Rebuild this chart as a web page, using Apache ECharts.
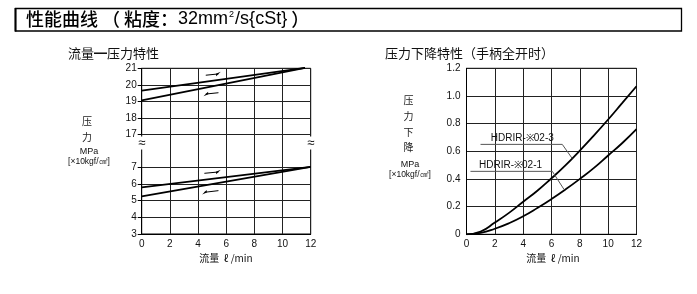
<!DOCTYPE html>
<html><head><meta charset="utf-8">
<script src="https://cdn.jsdelivr.net/npm/echarts@6/dist/echarts.min.js"></script>
<style>html,body{margin:0;padding:0;background:#fff}#c{width:697px;height:294px}</style>
</head><body><div id="c"></div>
<script>
// ---- data ----
const flowTicks = [0, 2, 4, 6, 8, 10, 12];
const pressTopTicks = [17, 18, 19, 20, 21];
const pressBotTicks = [3, 4, 5, 6, 7];
// flow-pressure characteristic (upper segment, MPa)
const topRising = [[0, 19.65], [11.6, 21.02]];
const topFalling = [[0, 19.05], [11.6, 21.02]];
// lower segment
const botRising = [[0, 5.8], [12, 7.02]];
const botFalling = [[0, 5.25], [12, 7.02]];
// pressure drop (handle fully open)
const dropFlow = [0, 1, 2, 3, 4, 5, 6, 7, 8, 9, 10, 11, 12];
const drop023 = [0, 0.02, 0.085, 0.155, 0.235, 0.315, 0.405, 0.5, 0.605, 0.715, 0.83, 0.95, 1.07];
const drop021 = [0, 0.01, 0.04, 0.08, 0.13, 0.19, 0.255, 0.325, 0.40, 0.48, 0.57, 0.66, 0.76];
const dropTicks = [0, 0.2, 0.4, 0.6, 0.8, 1.0, 1.2];
const label023 = 'HDRIR-※02-3';
const label021 = 'HDRIR-※02-1';
const leader023 = [[0.99, 0.65], [6.76, 0.65], [7.45, 0.55]];
const leader021 = [[0.28, 0.455], [6.06, 0.455], [6.88, 0.325]];

const CJK = "'Noto Sans CJK SC', sans-serif";
const LAT = "'Liberation Sans', Arial, sans-serif";
const GRIDC = '#222';
const chart = echarts.init(document.getElementById('c'));

function pair(a, b) { return a.map((v, i) => [v, b[i]]); }

const axLabel = {fontFamily: LAT, fontSize: 10, color: '#111'};
const harpoon = 'path://M0,0 L10,12 L4,12 Z';

const option = {
  animation: false,
  grid: [
    {left: 141.7, top: 68.3, width: 169, height: 165.7, show: true, borderColor: '#000', borderWidth: 1},
    {left: 141.7, top: 68.3, width: 169, height: 66},
    {left: 141.7, top: 167.3, width: 169, height: 66.7},
    {left: 466.5, top: 68.3, width: 170, height: 166, show: true, borderColor: '#000', borderWidth: 1}
  ],
  xAxis: [
    {gridIndex: 0, type: 'value', min: 0, max: 12, interval: 2,
     axisLine: {show: true, lineStyle: {color: '#000'}}, axisTick: {show: false},
     axisLabel: Object.assign({margin: 5}, axLabel),
     splitLine: {show: true, lineStyle: {color: GRIDC, width: 1}}},
    {gridIndex: 1, type: 'value', min: 0, max: 12, show: false},
    {gridIndex: 2, type: 'value', min: 0, max: 12, show: false},
    {gridIndex: 3, type: 'value', min: 0, max: 12, interval: 2,
     axisLine: {show: true, lineStyle: {color: '#000'}}, axisTick: {show: false},
     axisLabel: Object.assign({margin: 5}, axLabel),
     splitLine: {show: true, lineStyle: {color: GRIDC, width: 1}}}
  ],
  yAxis: [
    {gridIndex: 0, type: 'value', min: 0, max: 1, show: false},
    {gridIndex: 1, type: 'value', min: 17, max: 21, interval: 1,
     axisLine: {show: true, lineStyle: {color: '#000'}},
     axisTick: {show: true, length: 4, lineStyle: {color: '#000'}},
     axisLabel: Object.assign({margin: 5}, axLabel),
     splitLine: {show: true, lineStyle: {color: GRIDC, width: 1}}},
    {gridIndex: 2, type: 'value', min: 3, max: 7, interval: 1,
     axisLine: {show: true, lineStyle: {color: '#000'}},
     axisTick: {show: true, length: 4, lineStyle: {color: '#000'}},
     axisLabel: Object.assign({margin: 5}, axLabel),
     splitLine: {show: true, lineStyle: {color: GRIDC, width: 1}}},
    {gridIndex: 3, type: 'value', min: 0, max: 1.2, interval: 0.2,
     axisLine: {show: true, lineStyle: {color: '#000'}}, axisTick: {show: false},
     axisLabel: Object.assign({margin: 6, formatter: v => v === 0 ? '0' : v.toFixed(1)}, axLabel),
     splitLine: {show: true, lineStyle: {color: GRIDC, width: 1}}}
  ],
  series: [
    {type: 'line', xAxisIndex: 1, yAxisIndex: 1, data: topRising, showSymbol: false, clip: false,
     lineStyle: {color: '#000', width: 1.8},
     markLine: {silent: true, symbol: ['none', harpoon], symbolSize: [4, 5], label: {show: false},
       lineStyle: {color: '#000', width: 1, type: 'solid'},
       data: [[{coord: [4.55, 20.58]}, {coord: [5.45, 20.66]}],
              [{coord: [5.45, 19.52]}, {coord: [4.55, 19.44]}]]}},
    {type: 'line', xAxisIndex: 1, yAxisIndex: 1, data: topFalling, showSymbol: false, clip: false,
     lineStyle: {color: '#000', width: 1.8}},
    {type: 'line', xAxisIndex: 2, yAxisIndex: 2, data: botRising, showSymbol: false, clip: false,
     lineStyle: {color: '#000', width: 1.8},
     markLine: {silent: true, symbol: ['none', harpoon], symbolSize: [4, 5], label: {show: false},
       lineStyle: {color: '#000', width: 1, type: 'solid'},
       data: [[{coord: [4.45, 6.64]}, {coord: [5.45, 6.72]}],
              [{coord: [5.45, 5.6]}, {coord: [4.45, 5.5]}]]}},
    {type: 'line', xAxisIndex: 2, yAxisIndex: 2, data: botFalling, showSymbol: false, clip: false,
     lineStyle: {color: '#000', width: 1.8}},
    {type: 'line', xAxisIndex: 3, yAxisIndex: 3, data: pair(dropFlow, drop023), smooth: true, showSymbol: false,
     lineStyle: {color: '#000', width: 1.8}},
    {type: 'line', xAxisIndex: 3, yAxisIndex: 3, data: pair(dropFlow, drop021), smooth: true, showSymbol: false,
     lineStyle: {color: '#000', width: 1.8}},
    {type: 'line', xAxisIndex: 3, yAxisIndex: 3, data: leader023, showSymbol: false,
     lineStyle: {color: '#555', width: 1},
     markPoint: {symbol: 'circle', symbolSize: 0, data: [{coord: [3.94, 0.695], name: label023}],
       label: {show: true, position: 'inside', formatter: '{b}', fontFamily: LAT, fontSize: 10, color: '#111'}}},
    {type: 'line', xAxisIndex: 3, yAxisIndex: 3, data: leader021, showSymbol: false,
     lineStyle: {color: '#555', width: 1},
     markPoint: {symbol: 'circle', symbolSize: 0, data: [{coord: [3.11, 0.5], name: label021}],
       label: {show: true, position: 'inside', formatter: '{b}', fontFamily: LAT, fontSize: 10, color: '#111'}}}
  ],
  graphic: [
    {type: 'rect', shape: {x: 15.5, y: 8.5, width: 666, height: 22.5}, style: {fill: 'none', stroke: '#000', lineWidth: 1.3}},
    {type: 'line', shape: {x1: 15.5, y1: 8, x2: 15.5, y2: 31.5}, style: {stroke: '#000', lineWidth: 2}},
    {type: 'text', x: 26, y: 19.5, style: {
      text: '{a|性能曲线 （ 粘度：}32mm{s|2}/s{cSt}{a| ）}',
      font: '18px ' + LAT, fill: '#000', textVerticalAlign: 'middle',
      rich: {a: {font: '500 18px ' + CJK, fill: '#000'}, s: {font: '9px ' + LAT, fill: '#000', verticalAlign: 'top', padding: [0, 1, 6, 1]}}}},
    {type: 'text', x: 68, y: 53, style: {text: '流量━压力特性', font: '13px ' + CJK, fill: '#111', textVerticalAlign: 'middle'}},
    {type: 'text', x: 385, y: 53, style: {text: '压力下降特性（手柄全开时）', font: '13px ' + CJK, fill: '#111', textVerticalAlign: 'middle'}},
    // left axis name
    {type: 'text', x: 87, y: 121, style: {text: '压', font: '10px ' + CJK, fill: '#222', textAlign: 'center', textVerticalAlign: 'middle'}},
    {type: 'text', x: 87, y: 137, style: {text: '力', font: '10px ' + CJK, fill: '#222', textAlign: 'center', textVerticalAlign: 'middle'}},
    {type: 'text', x: 89, y: 152, style: {text: 'MPa', font: '9px ' + LAT, fill: '#111', textAlign: 'center', textVerticalAlign: 'middle'}},
    {type: 'text', x: 89, y: 161.5, style: {text: '[×10kgf/㎠]', font: '8.5px ' + LAT, fill: '#111', textAlign: 'center', textVerticalAlign: 'middle'}},
    // right axis name
    {type: 'text', x: 408.5, y: 100, style: {text: '压', font: '10px ' + CJK, fill: '#222', textAlign: 'center', textVerticalAlign: 'middle'}},
    {type: 'text', x: 408.5, y: 116, style: {text: '力', font: '10px ' + CJK, fill: '#222', textAlign: 'center', textVerticalAlign: 'middle'}},
    {type: 'text', x: 408.5, y: 132, style: {text: '下', font: '10px ' + CJK, fill: '#222', textAlign: 'center', textVerticalAlign: 'middle'}},
    {type: 'text', x: 408.5, y: 147.5, style: {text: '降', font: '10px ' + CJK, fill: '#222', textAlign: 'center', textVerticalAlign: 'middle'}},
    {type: 'text', x: 410, y: 165, style: {text: 'MPa', font: '9px ' + LAT, fill: '#111', textAlign: 'center', textVerticalAlign: 'middle'}},
    {type: 'text', x: 410, y: 174.5, style: {text: '[×10kgf/㎠]', font: '8.5px ' + LAT, fill: '#111', textAlign: 'center', textVerticalAlign: 'middle'}},
    // x axis names
    {type: 'text', x: 226, y: 258.5, style: {text: '流量  ℓ /min', font: '10px ' + CJK, fill: '#111', textAlign: 'center', textVerticalAlign: 'middle'}},
    {type: 'text', x: 553, y: 258.5, style: {text: '流量  ℓ /min', font: '10px ' + CJK, fill: '#111', textAlign: 'center', textVerticalAlign: 'middle'}},
    // break marks
    {type: 'text', x: 141.7, y: 143, z: 100, style: {text: '≈', font: '13px ' + LAT, fill: '#000', textAlign: 'center', textVerticalAlign: 'middle', backgroundColor: '#fff'}},
    {type: 'text', x: 310.7, y: 143, z: 100, style: {text: '≈', font: '13px ' + LAT, fill: '#000', textAlign: 'center', textVerticalAlign: 'middle', backgroundColor: '#fff'}}
  ]
};
chart.setOption(option);
</script></body></html>
